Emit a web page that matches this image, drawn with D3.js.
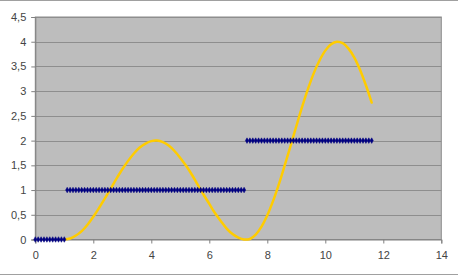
<!DOCTYPE html>
<html>
<head>
<meta charset="utf-8">
<script src="https://cdn.jsdelivr.net/npm/d3@7"></script>
<style>
html,body{margin:0;padding:0;background:#fff;}
svg{display:block;}
</style>
</head>
<body>
<svg id="chart" width="458" height="275"></svg>
<script>
// X axis ticks / Y axis ticks
const xTicks = [0, 2, 4, 6, 8, 10, 12, 14];
const yTicks = [0, 0.5, 1, 1.5, 2, 2.5, 3, 3.5, 4, 4.5];

// Blue diamond series (step levels)
const dotX = [
  0, 0.1, 0.2, 0.3, 0.4, 0.5, 0.6, 0.7, 0.8, 0.9, 1.0,
  1.1, 1.2, 1.3, 1.4, 1.5, 1.6, 1.7, 1.8, 1.9, 2.0, 2.1, 2.2, 2.3, 2.4, 2.5, 2.6, 2.7, 2.8, 2.9, 3.0,
  3.1, 3.2, 3.3, 3.4, 3.5, 3.6, 3.7, 3.8, 3.9, 4.0, 4.1, 4.2, 4.3, 4.4, 4.5, 4.6, 4.7, 4.8, 4.9, 5.0,
  5.1, 5.2, 5.3, 5.4, 5.5, 5.6, 5.7, 5.8, 5.9, 6.0, 6.1, 6.2, 6.3, 6.4, 6.5, 6.6, 6.7, 6.8, 6.9, 7.0, 7.1, 7.2,
  7.3, 7.4, 7.5, 7.6, 7.7, 7.8, 7.9, 8.0, 8.1, 8.2, 8.3, 8.4, 8.5, 8.6, 8.7, 8.8, 8.9, 9.0,
  9.1, 9.2, 9.3, 9.4, 9.5, 9.6, 9.7, 9.8, 9.9, 10.0, 10.1, 10.2, 10.3, 10.4, 10.5, 10.6, 10.7, 10.8, 10.9, 11.0,
  11.1, 11.2, 11.3, 11.4, 11.5, 11.6
];
const dotY = [
  0, 0, 0, 0, 0, 0, 0, 0, 0, 0, 0,
  1, 1, 1, 1, 1, 1, 1, 1, 1, 1, 1, 1, 1, 1, 1, 1, 1, 1, 1, 1,
  1, 1, 1, 1, 1, 1, 1, 1, 1, 1, 1, 1, 1, 1, 1, 1, 1, 1, 1, 1,
  1, 1, 1, 1, 1, 1, 1, 1, 1, 1, 1, 1, 1, 1, 1, 1, 1, 1, 1, 1, 1, 1,
  2, 2, 2, 2, 2, 2, 2, 2, 2, 2, 2, 2, 2, 2, 2, 2, 2, 2,
  2, 2, 2, 2, 2, 2, 2, 2, 2, 2, 2, 2, 2, 2, 2, 2, 2, 2, 2, 2,
  2, 2, 2, 2, 2, 2
];

// Yellow smooth curve
const curveX = [
  1.0, 1.2, 1.4, 1.6, 1.8, 2.0, 2.2, 2.4, 2.6, 2.8, 3.0, 3.2, 3.4, 3.6, 3.8, 4.0,
  4.2, 4.4, 4.6, 4.8, 5.0, 5.2, 5.4, 5.6, 5.8, 6.0, 6.2, 6.4, 6.6, 6.8, 7.0, 7.2,
  7.3, 7.4, 7.6, 7.8, 8.0, 8.2, 8.4, 8.6, 8.8, 9.0, 9.2, 9.4, 9.6, 9.8, 10.0,
  10.2, 10.4, 10.6, 10.8, 11.0, 11.2, 11.4, 11.6
];
const curveY = [
  0, 0.02, 0.08, 0.17, 0.30, 0.46, 0.64, 0.83, 1.03, 1.23, 1.42, 1.59, 1.74, 1.86, 1.94, 1.99,
  2.00, 1.97, 1.90, 1.79, 1.65, 1.49, 1.31, 1.11, 0.91, 0.72, 0.53, 0.37, 0.22, 0.11, 0.04, 0.00,
  0.00, 0.01, 0.10, 0.26, 0.49, 0.78, 1.12, 1.50, 1.89, 2.29, 2.68, 3.04, 3.36, 3.62, 3.82,
  3.95, 4.00, 3.97, 3.86, 3.68, 3.43, 3.12, 2.77
];

const svg = d3.select("#chart");
const W = 458, H = 275;
const padL = 35.3, padR = 441.3, padT = 17, padB = 239.5;

const x = d3.scaleLinear().domain([0, 14]).range([padL, padR]);
const y = d3.scaleLinear().domain([0, 4.5]).range([padB, padT]);

// outer chart border lines (top & bottom)
svg.append("line").attr("x1", 0).attr("x2", W).attr("y1", 0.5).attr("y2", 0.5)
  .attr("stroke", "#a0a0a0").attr("stroke-width", 1);
svg.append("line").attr("x1", 0).attr("x2", W).attr("y1", 274.5).attr("y2", 274.5)
  .attr("stroke", "#a0a0a0").attr("stroke-width", 1);

// plot area
svg.append("rect").attr("x", padL).attr("y", padT)
  .attr("width", padR - padL).attr("height", padB - padT)
  .attr("fill", "#bdbdbd").attr("stroke", "#8c8c8c").attr("stroke-width", 1);

// gridlines
svg.append("g").selectAll("line").data(yTicks.filter(d => d > 0)).join("line")
  .attr("x1", padL).attr("x2", padR)
  .attr("y1", d => Math.round(y(d)) + 0.5).attr("y2", d => Math.round(y(d)) + 0.5)
  .attr("stroke", "#8e8e8e").attr("stroke-width", 1);

// axes
const yAxis = d3.axisLeft(y).tickValues(yTicks).tickSize(4).tickPadding(5)
  .tickFormat(d => String(d).replace(".", ","));
const gy = svg.append("g").attr("transform", `translate(${padL},0)`).call(yAxis);
const xAxis = d3.axisBottom(x).tickValues(xTicks).tickSize(4).tickPadding(8)
  .tickFormat(d => String(d));
const gx = svg.append("g").attr("transform", `translate(0,${padB})`).call(xAxis);
[gx, gy].forEach(g => {
  g.select(".domain").attr("stroke", "#808080");
  g.selectAll(".tick line").attr("stroke", "#808080");
  g.selectAll(".tick text").attr("fill", "#444").attr("font-family", "Liberation Sans, Arial, sans-serif").attr("font-size", 11);
});

// yellow curve
const pts = curveX.map((v, i) => [v, curveY[i]]);
svg.append("path").datum(pts)
  .attr("d", d3.line().x(d => x(d[0])).y(d => y(d[1])).curve(d3.curveCatmullRom.alpha(0.5)))
  .attr("fill", "none").attr("stroke", "#ffcc00").attr("stroke-width", 2.5)
  .attr("stroke-linejoin", "round").attr("stroke-linecap", "round");

// blue diamonds
const diamond = d3.symbol().type(d3.symbolDiamond).size(9);
svg.append("g").selectAll("path").data(dotX.map((v, i) => [v, dotY[i]])).join("path")
  .attr("transform", d => `translate(${x(d[0])},${y(d[1])})`)
  .attr("d", diamond)
  .attr("fill", "#000080").attr("stroke", "#000080").attr("stroke-width", 0.5);
</script>
</body>
</html>
